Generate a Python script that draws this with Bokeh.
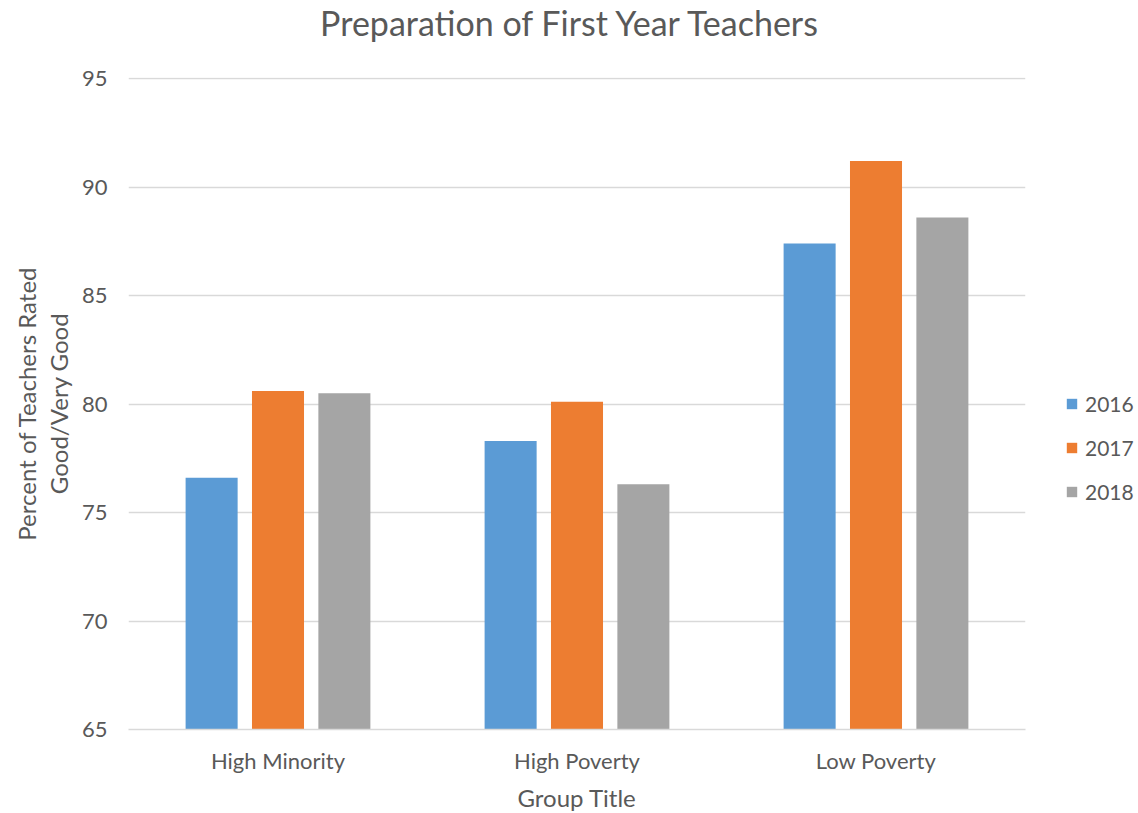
from bokeh.plotting import figure
from bokeh.models import ColumnDataSource, Legend, LegendItem, Range1d, FixedTicker, Div
from bokeh.layouts import column
from bokeh.transform import dodge
from bokeh.embed import file_html
from bokeh.resources import INLINE

title_text = "Preparation of First Year Teachers"
groups = ["High Minority", "High Poverty", "Low Poverty"]
years = ["2016", "2017", "2018"]
v2016 = [76.6, 78.3, 87.4]
v2017 = [80.6, 80.1, 91.2]
v2018 = [80.5, 76.3, 88.6]
colors = ["#5B9BD5", "#ED7D31", "#A5A5A5"]
yticks = [65, 70, 75, 80, 85, 90, 95]

FONT = "Lato"
TXT = "#595959"
TOTAL_W = 1130

src = ColumnDataSource(dict(g=groups, y2016=v2016, y2017=v2017, y2018=v2018))

p = figure(x_range=groups, y_range=Range1d(65, 95.05),
           frame_width=897, frame_height=652,
           min_border_left=128, min_border_right=105,
           min_border_top=31, min_border_bottom=76,
           output_backend="svg", toolbar_location=None)

renderers = []
for yr, col, off in zip(years, colors, [-0.222, 0.0, 0.222]):
    r = p.vbar(x=dodge("g", off, range=p.x_range), top="y" + yr, bottom=65,
               width=0.174, source=src, fill_color=col, line_color=None)
    renderers.append(r)

p.outline_line_color = None
p.xgrid.grid_line_color = None
p.ygrid.grid_line_color = "#D9D9D9"
p.ygrid.grid_line_width = 1.3
p.yaxis.ticker = FixedTicker(ticks=yticks)

p.yaxis.axis_line_color = None
p.yaxis.major_tick_line_color = None
p.yaxis.minor_tick_line_color = None
p.yaxis.major_label_text_font = FONT
p.yaxis.major_label_text_font_size = "22px"
p.yaxis.major_label_text_color = TXT
p.yaxis.major_label_standoff = 15
p.yaxis.axis_label = "Percent of Teachers Rated\nGood/Very Good"
p.yaxis.axis_label_text_font = FONT
p.yaxis.axis_label_text_font_size = "24px"
p.yaxis.axis_label_text_font_style = "normal"
p.yaxis.axis_label_text_color = TXT
p.yaxis.axis_label_text_line_height = 1.1
p.yaxis.axis_label_standoff = 6

p.xaxis.axis_line_color = "#D9D9D9"
p.xaxis.axis_line_width = 1.3
p.xaxis.major_tick_line_color = None
p.xaxis.minor_tick_line_color = None
p.xaxis.major_label_text_font = FONT
p.xaxis.major_label_text_font_size = "22px"
p.xaxis.major_label_text_color = TXT
p.xaxis.major_label_standoff = 11
p.xaxis.axis_label = "Group Title"
p.xaxis.axis_label_text_font = FONT
p.xaxis.axis_label_text_font_size = "24px"
p.xaxis.axis_label_text_font_style = "normal"
p.xaxis.axis_label_text_color = TXT
p.xaxis.axis_label_standoff = 6

legend = Legend(items=[LegendItem(label=yr, renderers=[r]) for yr, r in zip(years, renderers)],
                location=(40, 225), orientation="vertical",
                glyph_width=13, glyph_height=13, label_height=25,
                spacing=19, padding=0, margin=0, label_standoff=7,
                label_text_font=FONT, label_text_font_size="21px",
                label_text_color=TXT, border_line_color=None,
                background_fill_alpha=0)
p.add_layout(legend, "right")

title_div = Div(
    text=('<div style="width:%dpx;box-sizing:border-box;padding-left:8px;'
          'text-align:center;font-family:Lato;font-size:34px;color:%s;'
          'line-height:46px;white-space:nowrap">%s</div>') % (TOTAL_W, TXT, title_text),
    width=TOTAL_W, height=46, margin=0)

layout = column(title_div, p, spacing=0)

open("out.html", "w").write(file_html(layout, INLINE))
